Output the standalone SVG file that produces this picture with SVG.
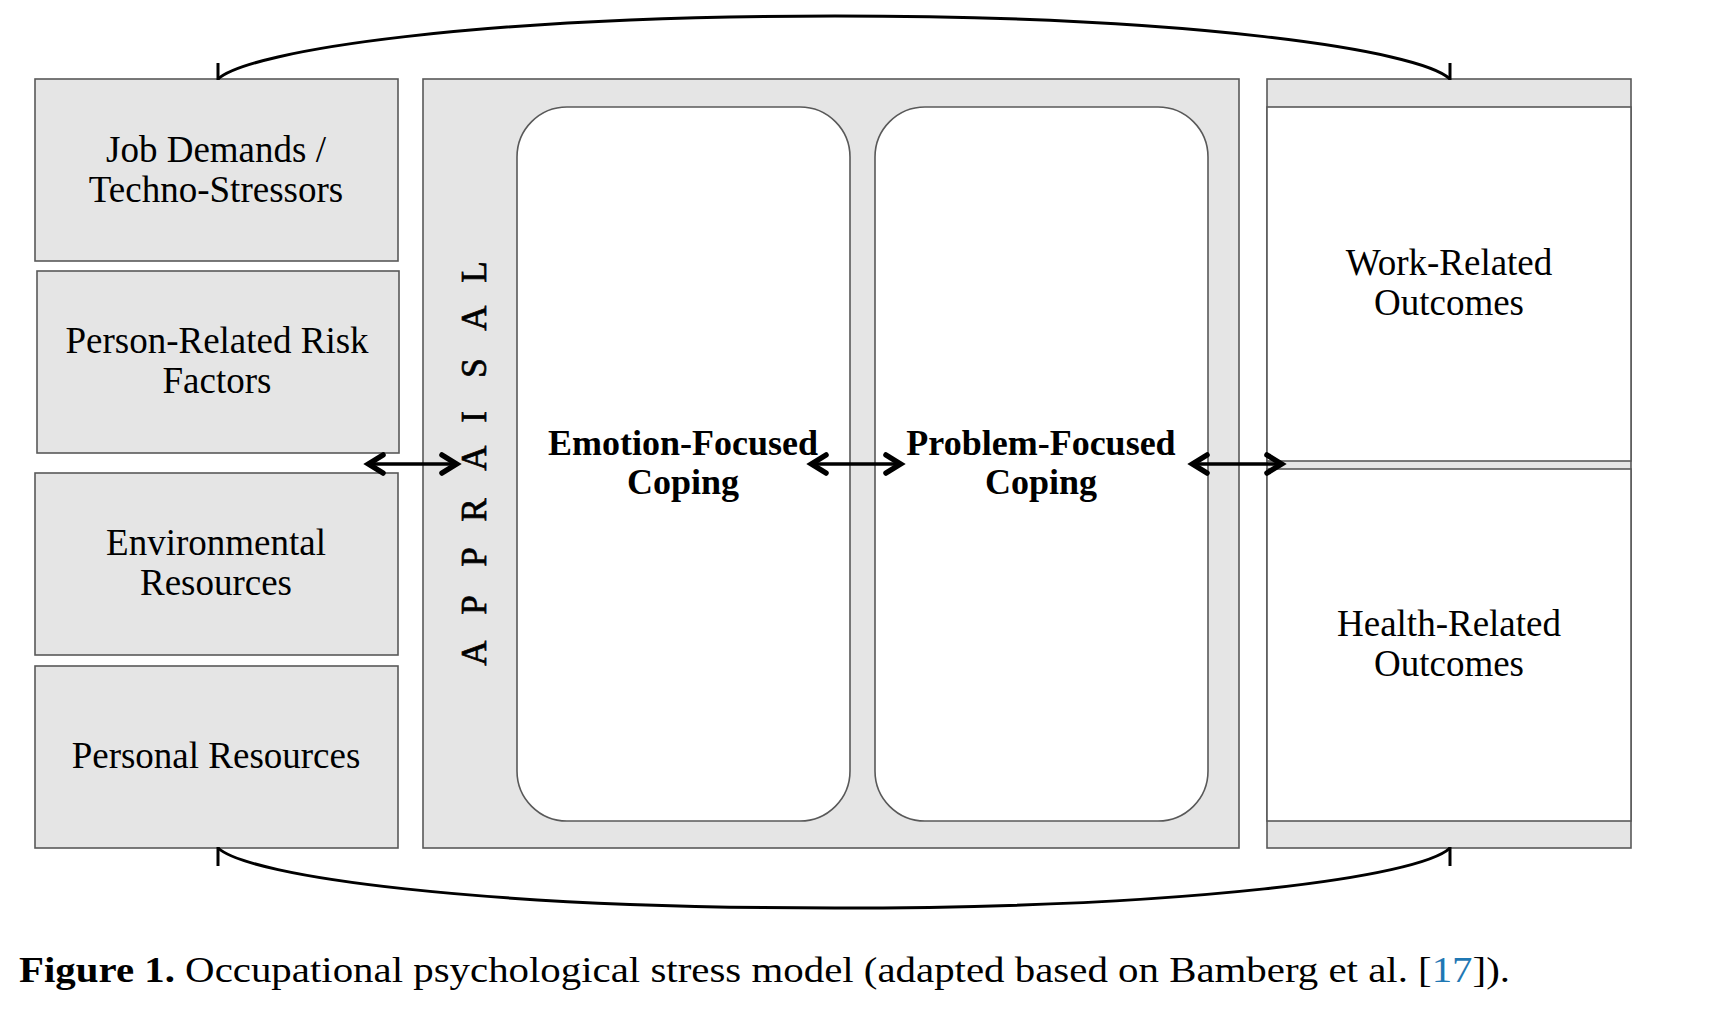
<svg xmlns="http://www.w3.org/2000/svg" width="1716" height="1022" viewBox="0 0 1716 1022">
<style>
.box{fill:#e5e5e5;stroke:#595959;stroke-width:1.6}
.wbox{fill:#ffffff;stroke:#595959;stroke-width:1.6}
.t{font-family:"Liberation Serif",serif;font-size:37px;fill:#000;text-anchor:middle}
.b{font-family:"Liberation Serif",serif;font-size:36px;font-weight:bold;fill:#000;text-anchor:middle}
.ap{font-family:"Liberation Serif",serif;font-size:35px;fill:#000;stroke:#000;stroke-width:0.7;text-anchor:middle}
.cap{font-family:"Liberation Serif",serif;font-size:35px;fill:#000}
.arr{fill:none;stroke:#000;stroke-width:3.5;marker-start:url(#ch);marker-end:url(#ch)}
.crv{fill:none;stroke:#000;stroke-width:3}
.tick{fill:none;stroke:#000;stroke-width:3}
</style>
<defs>
<marker id="ch" markerUnits="userSpaceOnUse" viewBox="-24 -14 28 28" refX="0" refY="0" markerWidth="28" markerHeight="28" orient="auto-start-reverse">
<path d="M-16,-9 L-1.5,0 L-16,9" fill="none" stroke="#000" stroke-width="5.5" stroke-linejoin="miter" stroke-linecap="round"/>
</marker>
</defs>
<rect width="1716" height="1022" fill="#ffffff"/>

<g id="job-demands">
<rect class="box" x="35" y="79" width="363" height="182"/>
<text class="t" x="216" y="162">Job Demands /</text>
<text class="t" x="216" y="202">Techno-Stressors</text>
</g>
<g id="person-risk">
<rect class="box" x="37" y="271" width="362" height="182"/>
<text class="t" x="217" y="353">Person-Related Risk</text>
<text class="t" x="217" y="393">Factors</text>
</g>
<g id="env-resources">
<rect class="box" x="35" y="473" width="363" height="182"/>
<text class="t" x="216" y="555">Environmental</text>
<text class="t" x="216" y="595">Resources</text>
</g>
<g id="personal-resources">
<rect class="box" x="35" y="666" width="363" height="182"/>
<text class="t" x="216" y="768">Personal Resources</text>
</g>

<g id="appraisal">
<rect class="box" x="423" y="79" width="816" height="769"/>
<text class="ap" transform="translate(486,0) rotate(-90)" y="0" x="-653 -605 -557 -510 -458 -417 -368 -318 -272">APPRAISAL</text>
</g>
<g id="emotion-focused">
<rect class="wbox" x="517" y="107" width="333" height="714" rx="50" ry="50"/>
<text class="b" x="683" y="455">Emotion-Focused</text>
<text class="b" x="683" y="494">Coping</text>
</g>
<g id="problem-focused">
<rect class="wbox" x="875" y="107" width="333" height="714" rx="50" ry="50"/>
<text class="b" x="1041" y="455">Problem-Focused</text>
<text class="b" x="1041" y="494">Coping</text>
</g>

<g id="outcomes">
<rect class="box" x="1267" y="79" width="364" height="769"/>
<g id="work-outcomes">
<rect class="wbox" x="1267" y="107" width="364" height="354"/>
<text class="t" x="1449" y="275">Work-Related</text>
<text class="t" x="1449" y="315">Outcomes</text>
</g>
<g id="health-outcomes">
<rect class="wbox" x="1267" y="469" width="364" height="352"/>
<text class="t" x="1449" y="636">Health-Related</text>
<text class="t" x="1449" y="676">Outcomes</text>
</g>
</g>

<g id="connectors">
<line class="arr" x1="367" y1="464" x2="458" y2="464"/>
<line class="arr" x1="810" y1="464" x2="902" y2="464"/>
<line class="arr" x1="1191" y1="464" x2="1283" y2="464"/>
<path class="crv" d="M218,79 C250,50 480,16 835,16 C1190,16 1420,50 1450,79"/>
<line class="tick" x1="218" y1="63" x2="218" y2="80"/>
<line class="tick" x1="1450" y1="63" x2="1450" y2="80"/>
<path class="crv" d="M218,848 C250,877 480,908 835,908 C1190,908 1420,877 1450,848"/>
<line class="tick" x1="218" y1="847" x2="218" y2="866"/>
<line class="tick" x1="1450" y1="847" x2="1450" y2="866"/>
</g>

<text class="cap" x="19" y="982" textLength="1491" lengthAdjust="spacingAndGlyphs"><tspan font-weight="bold">Figure 1.</tspan> Occupational psychological stress model (adapted based on Bamberg et al. [<tspan fill="#1f78b4">17</tspan>]).</text>
</svg>
